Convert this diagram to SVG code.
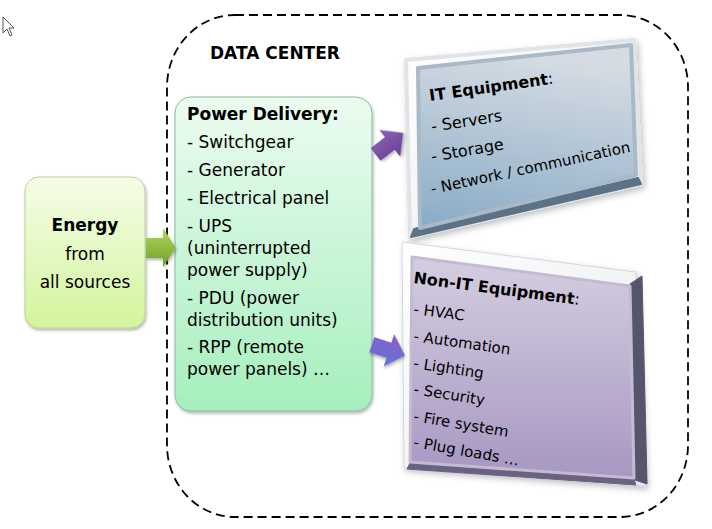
<svg xmlns="http://www.w3.org/2000/svg" width="712" height="529" viewBox="0 0 712 529">
<defs>
<style>
.t{font-family:"DejaVu Sans",Verdana,sans-serif;font-size:17px;fill:#000}
.b{font-weight:bold}
.c{text-anchor:middle}
.s15{font-size:15px}
.s16{font-size:16px}
</style>
<linearGradient id="gEnergy" x1="0" y1="0" x2="0" y2="1"><stop offset="0" stop-color="#f6fde8"/><stop offset="1" stop-color="#d3f49c"/></linearGradient>
<linearGradient id="gPower" x1="0" y1="0" x2="0" y2="1"><stop offset="0" stop-color="#ecfcf0"/><stop offset="1" stop-color="#a6efbe"/></linearGradient>
<linearGradient id="gGreenArrow" x1="0" y1="0" x2="0" y2="1"><stop offset="0" stop-color="#b5d85c"/><stop offset="1" stop-color="#6e9e2a"/></linearGradient>
<linearGradient id="gPurple1" x1="0" y1="0" x2="0" y2="1"><stop offset="0" stop-color="#8e62b8"/><stop offset="1" stop-color="#6a4090"/></linearGradient>
<linearGradient id="gPurple2" x1="0" y1="0" x2="0" y2="1"><stop offset="0" stop-color="#8a5ec8"/><stop offset="1" stop-color="#5f74d2"/></linearGradient>
<linearGradient id="gIT" x1="0.2" y1="0" x2="0" y2="1"><stop offset="0" stop-color="#d4dbe2"/><stop offset="1" stop-color="#89abc6"/></linearGradient>
<linearGradient id="gNonIT" x1="0" y1="0" x2="0" y2="1"><stop offset="0" stop-color="#d5cee0"/><stop offset="1" stop-color="#a797c2"/></linearGradient>
<linearGradient id="gRim" x1="0" y1="0" x2="1" y2="1"><stop offset="0" stop-color="#ffffff"/><stop offset="1" stop-color="#e6e9ee"/></linearGradient>
<filter id="sh" x="-20%" y="-20%" width="140%" height="140%"><feDropShadow dx="2" dy="3" stdDeviation="3" flood-color="#000" flood-opacity="0.25"/></filter>
<filter id="shs" x="-20%" y="-20%" width="140%" height="140%"><feDropShadow dx="1" dy="2" stdDeviation="1.5" flood-color="#000" flood-opacity="0.3"/></filter>
</defs>
<rect width="712" height="529" fill="#ffffff"/>

<!-- mouse cursor -->
<path d="M3,17 L3,33 L7,29 L10,36 L12,35 L9,28 L14,28 Z" fill="#ffffff" stroke="#555" stroke-width="1" stroke-linejoin="round"/>

<g id="data-center">
<rect x="167" y="15" width="521" height="502" rx="68" ry="72" fill="none" stroke="#000" stroke-width="1.8" stroke-dasharray="9 5"/>
<text class="t b" x="210" y="59">DATA CENTER</text>
</g>

<g id="energy">
<rect x="25" y="177" width="120" height="151" rx="14" fill="url(#gEnergy)" stroke="#b7d494" stroke-width="1" filter="url(#shs)"/>
<text class="t b c" x="85" y="231">Energy</text>
<text class="t c" x="85" y="260">from</text>
<text class="t c" x="85" y="288">all sources</text>
</g>

<g id="power-delivery">
<rect x="175" y="97" width="197" height="314" rx="16" fill="url(#gPower)" stroke="#8db99c" stroke-width="1" filter="url(#shs)"/>
<text class="t b" x="187" y="120">Power Delivery:</text>
<text class="t" x="187" y="148">- Switchgear</text>
<text class="t" x="187" y="176">- Generator</text>
<text class="t" x="187" y="204">- Electrical panel</text>
<text class="t" x="187" y="232">- UPS</text>
<text class="t" x="187" y="254">(uninterrupted</text>
<text class="t" x="187" y="276">power supply)</text>
<text class="t" x="187" y="304">- PDU (power</text>
<text class="t" x="187" y="326">distribution units)</text>
<text class="t" x="187" y="353">- RPP (remote</text>
<text class="t" x="187" y="375">power panels) …</text>
</g>

<g id="it-equipment">
<polygon points="406,60 634,40 641,184 410,237" fill="url(#gRim)" stroke="#e0e4e8" stroke-width="4" stroke-linejoin="round" filter="url(#sh)"/>
<polygon points="414,229 638,178 641,184 411,237" fill="#5c7287" stroke="#5c7287" stroke-width="2" stroke-linejoin="round"/>
<polygon points="418,68 631,45 636,175 420,228" fill="url(#gIT)" stroke="#a9b9c8" stroke-width="4" stroke-linejoin="round"/>
<text class="t s16" transform="translate(430,101) rotate(-8)"><tspan class="b">IT Equipment</tspan>:</text>
<text class="t s16" transform="translate(432,132) rotate(-9)">- Servers</text>
<text class="t s16" transform="translate(432,162) rotate(-10)">- Storage</text>
<text class="t s15" transform="translate(432,194) rotate(-12)">- Network / communication</text>
</g>

<g id="non-it-equipment">
<polygon points="402,242 636,272 646,486 404,468" fill="url(#gRim)" stroke="#d6d6de" stroke-width="1" stroke-linejoin="round" filter="url(#sh)"/>
<polygon points="630,284 642,276 647,484 635,480" fill="#55556b" stroke="#55556b" stroke-width="1" stroke-linejoin="round"/>
<polygon points="410,463 634,479 636,485 407,469" fill="#6b6183" stroke="#6b6183" stroke-width="1" stroke-linejoin="round"/>
<polygon points="412,257 630,286 634,478 410,462" fill="url(#gNonIT)" stroke="#c3bbd2" stroke-width="3" stroke-linejoin="round"/>
<text class="t s16" transform="translate(413,283) rotate(7.5)"><tspan class="b">Non-IT Equipment</tspan>:</text>
<text class="t s15" transform="translate(413,314) rotate(7.5)">- HVAC</text>
<text class="t s15" transform="translate(413,341) rotate(8)">- Automation</text>
<text class="t s15" transform="translate(413,368) rotate(8.5)">- Lighting</text>
<text class="t s15" transform="translate(413,394) rotate(9)">- Security</text>
<text class="t s15" transform="translate(413,421) rotate(9.5)">- Fire system</text>
<text class="t s15" transform="translate(413,447) rotate(10)">- Plug loads …</text>
</g>

<g id="connectors">
<path d="M146,238 L163,238 L163,228 L176,248 L163,267 L163,258 L146,258 Z" fill="url(#gGreenArrow)" filter="url(#shs)"/>
<path d="M-17,-8 L1,-8 L1,-17 L18,0 L1,17 L1,8 L-17,8 Z" fill="url(#gPurple1)" transform="translate(389,144) rotate(-38)" filter="url(#shs)"/>
<path d="M-17,-8 L1,-8 L1,-17 L18,0 L1,17 L1,8 L-17,8 Z" fill="url(#gPurple2)" transform="translate(388,350) rotate(18)" filter="url(#shs)"/>
</g>
</svg>
